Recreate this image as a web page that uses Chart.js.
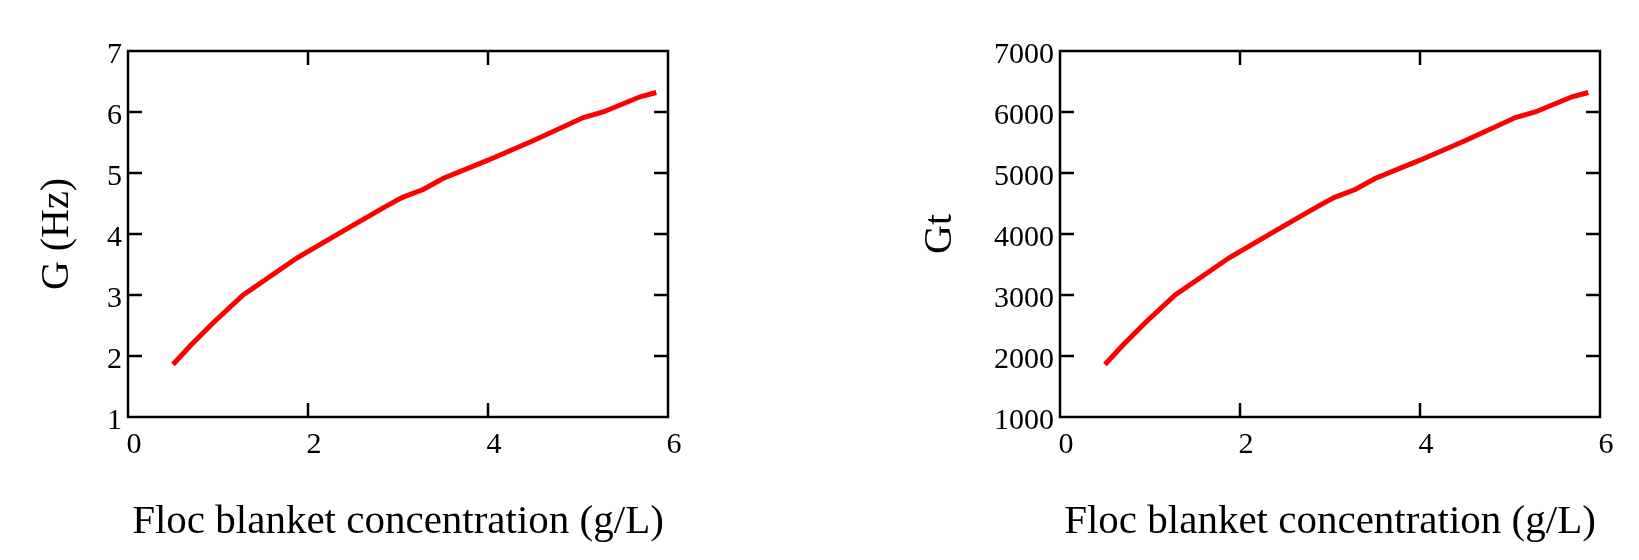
<!DOCTYPE html>
<html>
<head>
<meta charset="utf-8">
<script src="https://cdn.jsdelivr.net/npm/chart.js@4"></script>
<style>
  body { margin: 0; background: #fff; }
  canvas { position: absolute; top: 0; }
  #chartG { left: 0; }
  #chartGt { left: 820px; }
</style>
</head>
<body>
<canvas id="chartG" width="820" height="560"></canvas>
<canvas id="chartGt" width="819" height="560"></canvas>
<script>
// floc blanket concentration (g/L)
const concentration = [0.50, 0.70, 0.95, 1.28, 1.88, 2.45, 2.85, 3.05, 3.28, 3.50, 4.00, 4.50, 5.06, 5.28, 5.69, 5.87];
// velocity gradient G (Hz)
const gValues = [1.86, 2.18, 2.55, 3.00, 3.61, 4.10, 4.44, 4.60, 4.73, 4.91, 5.21, 5.53, 5.91, 6.00, 6.25, 6.32];
// Gt (dimensionless)
const gtValues = [1860, 2180, 2550, 3000, 3610, 4100, 4440, 4600, 4730, 4910, 5210, 5530, 5910, 6000, 6250, 6320];

const xTitle = "Floc blanket concentration (g/L)";
const SERIF = "'Liberation Serif', 'Times New Roman', serif";

/**
 * Draws the closed frame and the short inward ticks on all four sides.
 */
const frameTicks = {
    id: "frameTicks",
    afterDatasetsDraw(chart) {
        const ctx = chart.ctx;
        const area = chart.chartArea;
        const len = 14;
        ctx.save();
        ctx.strokeStyle = "#000";
        ctx.lineWidth = 2.5;

        const xs = chart.scales.x;
        for (const t of xs.ticks) {
            if (t.value <= xs.min || t.value >= xs.max) continue;
            const px = xs.getPixelForValue(t.value);
            ctx.beginPath();
            ctx.moveTo(px, area.bottom);
            ctx.lineTo(px, area.bottom - len);
            ctx.moveTo(px, area.top);
            ctx.lineTo(px, area.top + len);
            ctx.stroke();
        }

        const ys = chart.scales.y;
        for (const t of ys.ticks) {
            if (t.value <= ys.min || t.value >= ys.max) continue;
            const py = ys.getPixelForValue(t.value);
            ctx.beginPath();
            ctx.moveTo(area.left, py);
            ctx.lineTo(area.left + len, py);
            ctx.moveTo(area.right, py);
            ctx.lineTo(area.right - len, py);
            ctx.stroke();
        }

        ctx.strokeRect(area.left, area.top, area.right - area.left, area.bottom - area.top);
        ctx.restore();
    }
};

function buildChart(canvasId, yValues, yMin, yMax, yStep, yLabel, yAxisWidth, yTitlePad, rightPad) {
    const points = concentration.map((c, i) => ({ x: c, y: yValues[i] }));

    return new Chart(document.getElementById(canvasId), {
        type: "scatter",
        plugins: [frameTicks],
        data: {
            datasets: [{
                data: points,
                showLine: true,
                borderColor: "#ff0000",
                borderWidth: 5,
                pointRadius: 0,
                tension: 0,
                fill: false
            }]
        },
        options: {
            responsive: false,
            animation: false,
            devicePixelRatio: 1,
            layout: {
                padding: { top: 51, left: 0, right: rightPad, bottom: 0 }
            },
            plugins: {
                legend: { display: false },
                tooltip: { enabled: false }
            },
            scales: {
                x: {
                    type: "linear",
                    min: 0,
                    max: 6,
                    grid: { display: false, drawTicks: false },
                    border: { display: false },
                    ticks: {
                        stepSize: 2,
                        color: "#000",
                        padding: 10,
                        labelOffset: 6,
                        maxRotation: 0,
                        font: { family: SERIF, size: 30 },
                        callback: v => String(v)
                    },
                    title: {
                        display: true,
                        text: xTitle,
                        color: "#000",
                        padding: { top: 0, bottom: 13 },
                        font: { family: SERIF, size: 41 }
                    },
                    afterFit(scale) { scale.height = 143; }
                },
                y: {
                    type: "linear",
                    min: yMin,
                    max: yMax,
                    grid: { display: false, drawTicks: false },
                    border: { display: false },
                    ticks: {
                        stepSize: yStep,
                        color: "#000",
                        padding: 6,
                        labelOffset: 4,
                        font: { family: SERIF, size: 30 },
                        callback: v => String(v)
                    },
                    title: {
                        display: true,
                        text: yLabel,
                        color: "#000",
                        padding: { top: yTitlePad, bottom: 0 },
                        font: { family: SERIF, size: 40 }
                    },
                    afterFit(scale) { scale.width = yAxisWidth; }
                }
            }
        }
    });
}

buildChart("chartG", gValues, 1, 7, 1, "G (Hz)", 128, 33, 152);
buildChart("chartGt", gtValues, 1000, 7000, 1000, "Gt", 240, 96, 39);
</script>
</body>
</html>
